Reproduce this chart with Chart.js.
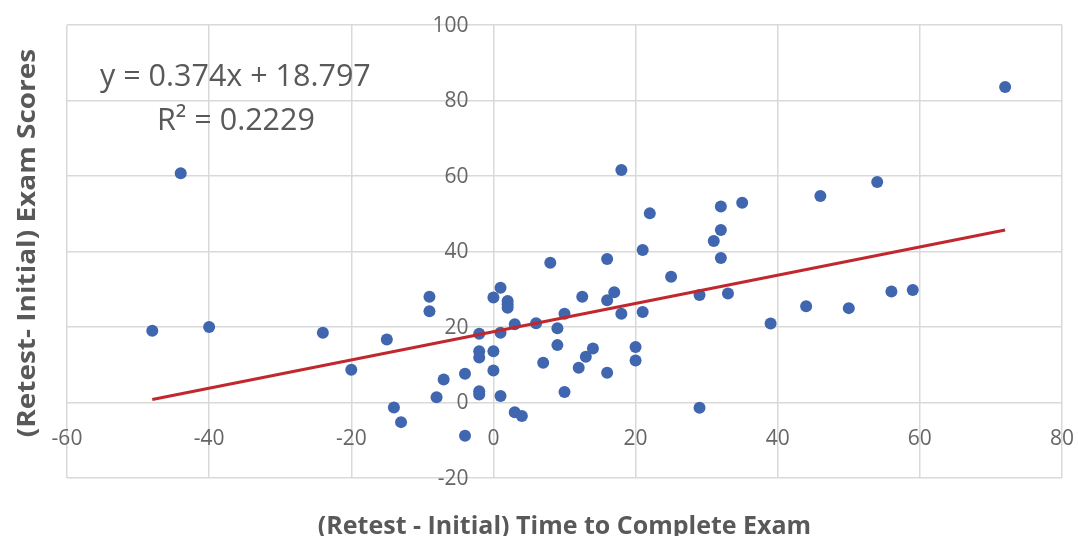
<!DOCTYPE html>
<html lang="en">
<head>
    <title>Retest vs Initial</title>
    <meta charset="UTF-8">
    <style>
        body {
            margin: 0;
            background: #ffffff;
        }
        #chart-container {
            width: 1078px;
            height: 536px;
        }
    </style>
</head>
<body>
<div id="chart-container">
    <canvas id="scatter-plot"></canvas>
</div>
<script src="https://cdn.jsdelivr.net/npm/chart.js"></script>
<script>
    // (retest - initial) time to complete exam
    const timeDiff = [
        -48, -44, -40, -24, -20, -15, -14, -13, -9, -9,
        -8, -7, -4, -4, -2, -2, -2, -2, -2, 0,
        1, 0, 0, 1, 1, 2, 2, 2, 3, 3,
        4, 6, 7, 8, 9, 9, 10, 10, 12, 12.5,
        13, 14, 16, 16, 16, 17, 18, 18, 20, 20,
        21, 21, 22, 25, 29, 29, 31, 32, 32, 32,
        33, 35, 39, 44, 46, 50, 54, 56, 59, 72
    ];
    // (retest - initial) exam scores
    const scoreDiff = [
        19, 60.7, 20, 18.5, 8.7, 16.7, -1.3, -5.2, 28, 24.2,
        1.4, 6.1, 7.6, -8.8, 18.2, 13.6, 11.9, 3, 2.1, 27.8,
        30.4, 13.6, 8.5, 18.5, 1.7, 26.9, 26, 25.1, 20.7, -2.6,
        -3.6, 21, 10.5, 37, 19.7, 15.2, 23.5, 2.8, 9.2, 28,
        12.1, 14.3, 7.9, 38, 27.1, 29.2, 23.5, 61.6, 14.7, 11.1,
        40.4, 24, 50.1, 33.3, 28.5, -1.4, 42.8, 51.9, 45.7, 38.3,
        28.9, 52.9, 20.9, 25.5, 54.7, 25, 58.4, 29.4, 29.8, 83.6
    ];
    // linear trendline end points as drawn
    const trendX = [-48, 72];
    const trendY = [0.8, 45.7];
    const trendText = ['y = 0.374x + 18.797', 'R\u00b2 = 0.2229'];

    const xTicks = [-60, -40, -20, 0, 20, 40, 60, 80];
    const yTicks = [-20, 0, 20, 40, 60, 80, 100];
    const xTitle = '(Retest - Initial) Time to Complete Exam';
    const yTitle = '(Retest- Initial) Exam Scores';

    const textColor = '#595959';
    const tickColor = '#666666';
    const gridColor = '#d9d9d9';

    // labels sit next to the axes that cross at (0, 0), titles outside the plot
    const axisText = {
        id: 'axisText',
        beforeDatasetsDraw(chart) {
            const { ctx, chartArea, scales: { x, y } } = chart;
            const x0 = x.getPixelForValue(0);
            const y0 = y.getPixelForValue(0);
            ctx.save();
            ctx.fillStyle = tickColor;
            ctx.font = '21px "Open Sans"';
            ctx.textAlign = 'right';
            ctx.textBaseline = 'middle';
            y.ticks.forEach(t => ctx.fillText(String(t.value), x0 - 25, y.getPixelForValue(t.value) + 1));
            ctx.textAlign = 'center';
            x.ticks.forEach(t => ctx.fillText(String(t.value), x.getPixelForValue(t.value), y0 + 37));

            ctx.fillStyle = textColor;
            ctx.font = 'bold 25px "Open Sans"';
            ctx.textBaseline = 'alphabetic';
            ctx.fillText(xTitle, (chartArea.left + chartArea.right) / 2, 534);
            ctx.translate(35, 243);
            ctx.rotate(-Math.PI / 2);
            ctx.scale(1.12, 1);
            ctx.fillText(yTitle, 0, 0);
            ctx.restore();
        },
        afterDatasetsDraw(chart) {
            const { ctx } = chart;
            ctx.save();
            ctx.fillStyle = textColor;
            ctx.font = '30.5px "Open Sans"';
            ctx.textAlign = 'left';
            ctx.textBaseline = 'middle';
            ctx.fillText(trendText[0], 100, 77);
            ctx.fillText(trendText[1], 157, 121);
            ctx.restore();
        }
    };

    const ctx = document.getElementById('scatter-plot').getContext('2d');

    const scatter_plot = new Chart(ctx, {
        type: 'scatter',
        data: {
            datasets: [{
                type: 'line',
                label: 'Linear trend',
                data: trendX.map((v, i) => ({ x: v, y: trendY[i] })),
                borderColor: '#c0282d',
                borderWidth: 3,
                pointRadius: 0,
                fill: false
            }, {
                label: 'Scores',
                data: timeDiff.map((v, i) => ({ x: v, y: scoreDiff[i] })),
                backgroundColor: '#3f66ae',
                borderWidth: 0,
                pointRadius: 6
            }]
        },
        options: {
            responsive: true,
            maintainAspectRatio: false,
            animation: false,
            layout: {
                padding: { left: 67, right: 16, top: 25, bottom: 58 }
            },
            plugins: {
                legend: { display: false },
                tooltip: { enabled: false }
            },
            scales: {
                x: {
                    type: 'linear',
                    min: -60,
                    max: 80,
                    afterBuildTicks: s => { s.ticks = xTicks.map(v => ({ value: v })); },
                    ticks: { display: false },
                    grid: { color: gridColor, lineWidth: 1.5, drawTicks: false },
                    border: { display: false }
                },
                y: {
                    type: 'linear',
                    min: -20,
                    max: 100,
                    afterBuildTicks: s => { s.ticks = yTicks.map(v => ({ value: v })); },
                    ticks: { display: false },
                    grid: { color: gridColor, lineWidth: 1.5, drawTicks: false },
                    border: { display: false }
                }
            }
        },
        plugins: [axisText]
    });
</script>
</body>
</html>
